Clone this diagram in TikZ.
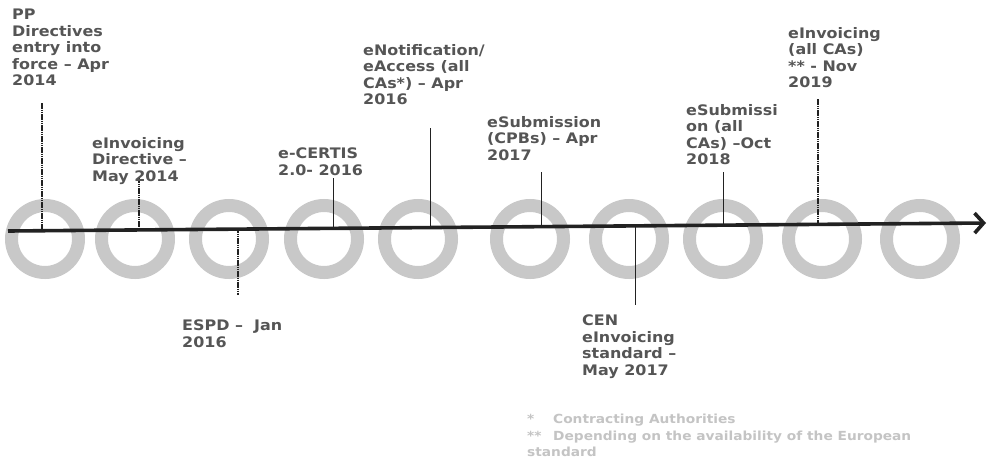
\documentclass[tikz,border=0pt]{standalone}
\usepackage{fontspec}
\setmainfont{DejaVu Sans}[FakeStretch=1.1]
\usetikzlibrary{arrows.meta}
\definecolor{lbl}{HTML}{555555}
\definecolor{ringc}{HTML}{C8C8C8}
\definecolor{axisc}{HTML}{222222}
\definecolor{notec}{HTML}{C4C4C4}
\begin{document}
\begin{tikzpicture}[x=1pt,y=-1pt,
  ringst/.style={draw=ringc, line width=13pt},
  evlabel/.style={anchor=north west, inner sep=0pt, align=left, text=lbl,
    font=\fontsize{14.5}{16.5}\selectfont\bfseries},
  notest/.style={anchor=north west, inner sep=0pt, align=left, text=notec,
    font=\fontsize{12.5}{16.3}\selectfont\bfseries},
  tickdot/.style={draw=axisc, line width=1.1pt, dash pattern=on 1.6pt off 0.6pt},
  ticksolid/.style={draw=axisc, line width=1pt},
  axisst/.style={draw=axisc, line width=3.6pt, -{Straight Barb[length=9pt,width=20pt]}}]
\useasboundingbox[fill=white] (0,0) rectangle (987,463);
% rings
\foreach \cx in {45,135,229,324,418,530,629,723,822,920}
  \draw[ringst] (\cx,239) circle[radius=33.5];
% axis
\coordinate (ax0) at (8,231);
\coordinate (ax1) at (986,223);
\draw[axisst] (ax0) -- (ax1);
% tick points
\coordinate (a1) at (42,230.7);   \coordinate (e1) at (42,103);
\coordinate (a2) at (139,229.9);  \coordinate (e2) at (139,177);
\coordinate (a3) at (238,229.1);  \coordinate (e3) at (238,295);
\coordinate (a4) at (333,228.3);  \coordinate (e4) at (333,178);
\coordinate (a5) at (430,227.5);  \coordinate (e5) at (430,128);
\coordinate (a6) at (541,226.6);  \coordinate (e6) at (541,172);
\coordinate (a7) at (635,225.9);  \coordinate (e7) at (635,305);
\coordinate (a8) at (723,225.2);  \coordinate (e8) at (723,172);
\coordinate (a9) at (818,224.4);  \coordinate (e9) at (818,99);
\draw[tickdot] (e1) -- (a1);
\draw[tickdot] (e2) -- (a2);
\draw[tickdot] (a3) -- (e3);
\draw[ticksolid] (e4) -- (a4);
\draw[ticksolid] (e5) -- (a5);
\draw[ticksolid] (e6) -- (a6);
\draw[ticksolid] (a7) -- (e7);
\draw[ticksolid] (e8) -- (a8);
\draw[tickdot] (e9) -- (a9);
% labels
\node[evlabel] (l1) at (12,9) {PP\\Directives\\entry into\\force – Apr\\2014};
\node[evlabel] (l2) at (92,137) {eInvoicing\\Directive –\\May 2014};
\node[evlabel] (l3) at (182,320) {ESPD –\ \ Jan\\2016};
\node[evlabel] (l4) at (278,148) {e-CERTIS\\2.0- 2016};
\node[evlabel] (l5) at (363,44) {eNotification/\\eAccess (all\\CAs*) – Apr\\2016};
\node[evlabel] (l6) at (487,116) {eSubmission\\(CPBs) – Apr\\2017};
\node[evlabel] (l7) at (582,315) {CEN\\eInvoicing\\standard –\\May 2017};
\node[evlabel] (l8) at (686,104) {eSubmissi\\on (all\\CAs) –Oct\\2018};
\node[evlabel] (l9) at (788,27) {eInvoicing\\(all CAs)\\** - Nov\\2019};
% footnote
\node[notest] (fn) at (527,414) {\makebox[26pt][l]{*}Contracting Authorities\\
  \makebox[26pt][l]{**}Depending on the availability of the European\\standard};
\end{tikzpicture}
\end{document}
